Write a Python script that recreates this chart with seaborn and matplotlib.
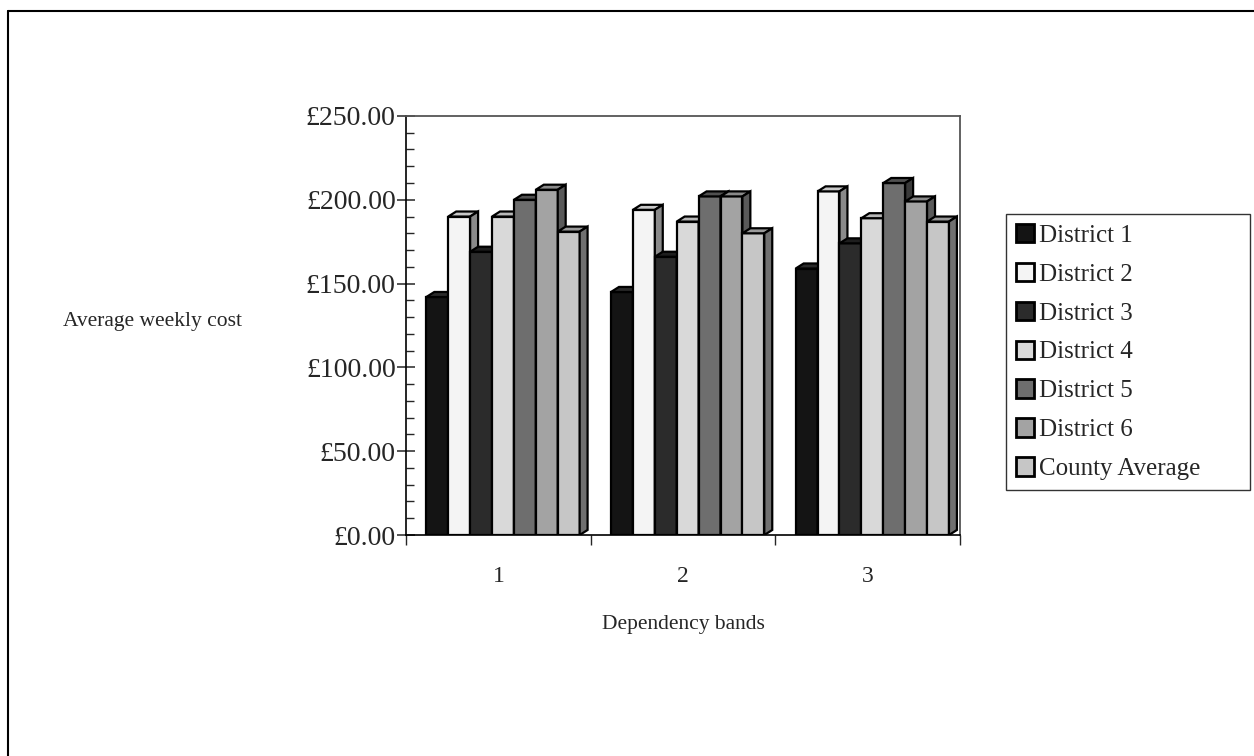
import pandas as pd
import seaborn as sns
import matplotlib.pyplot as plt
from matplotlib.patches import Polygon, Patch
from matplotlib.lines import Line2D
from matplotlib.ticker import MultipleLocator, FixedLocator

# data
bands = ["1", "2", "3"]
districts = ["District 1", "District 2", "District 3", "District 4",
             "District 5", "District 6", "County Average"]
d1 = [142, 145, 159]
d2 = [190, 194, 205]
d3 = [169, 166, 174]
d4 = [190, 187, 189]
d5 = [200, 202, 210]
d6 = [206, 202, 199]
county = [181, 180, 187]

front = ["#141414", "#f4f4f4", "#2b2b2b", "#d9d9d9", "#6e6e6e", "#a3a3a3", "#c6c6c6"]
side = ["#050505", "#8a8a8a", "#151515", "#8c8c8c", "#3a3a3a", "#5a5a5a", "#707070"]
top = ["#2a2a2a", "#c8c8c8", "#1e1e1e", "#b8b8b8", "#505050", "#8a8a8a", "#9a9a9a"]

rows = []
for name, vals in zip(districts, [d1, d2, d3, d4, d5, d6, county]):
    for b, v in zip(bands, vals):
        rows.append({"band": b, "district": name, "cost": v})
df = pd.DataFrame(rows)

sns.set_style("white")
plt.rcParams["font.family"] = ["Liberation Serif", "DejaVu Serif"]

fig = plt.figure(figsize=(12.54, 7.56), dpi=100)
ax = fig.add_axes([0.3238, 0.2923, 0.4418, 0.5543])

sns.barplot(data=df, x="band", y="cost", hue="district", order=bands,
            hue_order=districts, palette=front, width=0.83,
            edgecolor="black", linewidth=1.6, saturation=1, legend=False, ax=ax)

# fake 3D depth on each bar
dx, dy = 0.043, 3.0
shift = 0.025
for i, cont in enumerate(ax.containers):
    for bar in cont:
        bar.set_x(bar.get_x() + shift)
        x, w, h = bar.get_x(), bar.get_width(), bar.get_height()
        bar.set_zorder(3 + i)
        tp = Polygon([(x, h), (x + dx, h + dy), (x + w + dx, h + dy), (x + w, h)],
                     closed=True, facecolor=top[i], edgecolor="black",
                     linewidth=1.6, zorder=3 + i)
        sp = Polygon([(x + w, 0), (x + w + dx, dy), (x + w + dx, h + dy), (x + w, h)],
                     closed=True, facecolor=side[i], edgecolor="black",
                     linewidth=1.6, zorder=3 + i)
        ax.add_patch(tp)
        ax.add_patch(sp)

ax.set_xlim(-0.5, 2.5)
ax.set_ylim(0, 250)

ax.yaxis.set_minor_locator(MultipleLocator(10))
ax.set_yticks(range(0, 251, 50))
ax.set_yticklabels([f"£{v:.2f}" for v in range(0, 251, 50)], fontsize=20)
ax.tick_params(axis="y", which="major", direction="inout", length=13, width=1.1,
               left=True, pad=1)
ax.tick_params(axis="y", which="minor", direction="in", length=6, width=1.0, left=True)

ax.xaxis.set_minor_locator(FixedLocator([-0.5, 0.5, 1.5, 2.5]))
ax.tick_params(axis="x", which="major", length=0, labelsize=17, pad=22)
ax.tick_params(axis="x", which="minor", direction="out", length=7, width=1.0, bottom=True)

for s in ["left", "bottom"]:
    ax.spines[s].set_color("black")
    ax.spines[s].set_linewidth(1.2)
for s in ["top", "right"]:
    ax.spines[s].set_color("#555555")
    ax.spines[s].set_linewidth(1.3)

ax.set_ylabel("Average weekly cost", rotation=0, fontsize=15.5, ha="center", va="center")
ax.yaxis.set_label_coords(-0.458, 0.51)
ax.set_xlabel("Dependency bands", fontsize=15.5)
ax.xaxis.set_label_coords(0.5, -0.19)

handles = [Patch(facecolor=c, edgecolor="black", linewidth=2) for c in front]
leg = fig.legend(handles, districts, loc="upper left",
                 bbox_to_anchor=(0.802, 0.717 - 0.369, 0.195, 0.369), mode="expand",
                 frameon=True, fancybox=False, fontsize=18, handlelength=0.75,
                 handleheight=0.75, handletextpad=0.2, labelspacing=0.64,
                 borderpad=0.4, borderaxespad=0)
leg.get_frame().set_edgecolor("black")
leg.get_frame().set_linewidth(1.0)

# outer chart frame (left and top edges visible)
fig.add_artist(Line2D([8 / 1254, 8 / 1254], [0, 1 - 11 / 756], color="black", lw=1.5))
fig.add_artist(Line2D([8 / 1254, 1], [1 - 11 / 756, 1 - 11 / 756], color="black", lw=1.5))

fig.savefig("out.png", dpi=100)
